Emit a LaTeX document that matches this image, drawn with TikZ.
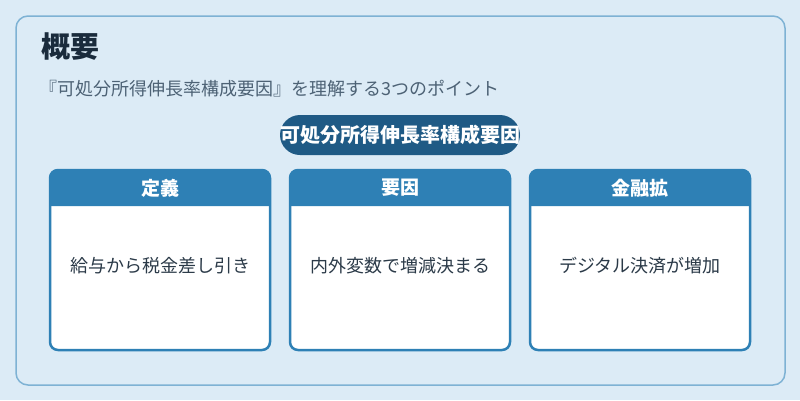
\documentclass[tikz,border=0pt]{standalone}
\usepackage{fontspec}
\usepackage{xcolor}
\usepackage{tikz}
\usetikzlibrary{positioning,calc}
\newfontfamily\cjk{Noto Sans CJK JP}
\definecolor{bgblue}{HTML}{DCEBF6}
\definecolor{frameblue}{HTML}{7EB2D4}
\definecolor{titleink}{HTML}{1A2B3C}
\definecolor{subink}{HTML}{4D6275}
\definecolor{pillblue}{HTML}{1F5A85}
\definecolor{headblue}{HTML}{2E80B5}
\definecolor{bodyink}{HTML}{2B3A48}
\begin{document}
\begin{tikzpicture}[x=1pt,y=-1pt,font=\cjk]
            \tikzstyle{card}=[draw=headblue, line width=2.5pt, fill=white, rounded corners=8pt,
                              minimum width=220pt, minimum height=180pt, outer sep=0pt]
            \tikzstyle{headtext}=[text=white, font=\cjk\bfseries\fontsize{19}{21}\selectfont]
            \tikzstyle{bodytext}=[text=bodyink, font=\cjk\fontsize{18}{20}\selectfont]
            % background and frame
            \fill[bgblue] (0,0) rectangle (800,400);
            \useasboundingbox (0,0) rectangle (800,400);
            \draw[frameblue, line width=1.5pt, rounded corners=12pt] (16,16) rectangle (785,385);
            \node[anchor=west, text=titleink, inner sep=0pt,
                  font=\cjk\bfseries\fontsize{29}{32}\selectfont] (T) at (41,47) {概要};
            \node[anchor=west, text=subink, inner sep=0pt,
                  font=\cjk\fontsize{18}{20}\selectfont] (S) at (39,89)
                  {『可処分所得伸長率構成要因』を理解する3つのポイント};
            \node[fill=pillblue, text=white, rounded corners=20pt, minimum width=240pt,
                  minimum height=40pt, inner sep=0pt,
                  font=\cjk\bfseries\fontsize{20}{22}\selectfont] (P) at (400,135)
                  {可処分所得伸長率構成要因};
            % cards
            \node[card] (C1) at (160,260) {};
            \node[card] (C2) at (400,260) {};
            \node[card] (C3) at (640,260) {};
            \foreach \c in {C1,C2,C3}
              \fill[headblue] ([yshift=-36pt]\c.north west) [rounded corners=8pt] -- (\c.north west)
                  -- (\c.north east) [sharp corners] -- ([yshift=-36pt]\c.north east) -- cycle;
            \node[headtext] (H1) at ($(C1.north)+(0,18)$) {定義};
            \node[headtext] (H2) at ($(C2.north)+(0,18)$) {要因};
            \node[headtext] (H3) at ($(C3.north)+(0,18)$) {金融拡};
            \node[bodytext] (B1) at ($(C1.center)+(0,6)$) {給与から税金差し引き};
            \node[bodytext] (B2) at ($(C2.center)+(0,6)$) {内外変数で増減決まる};
            \node[bodytext] (B3) at ($(C3.center)+(0,6)$) {デジタル決済が増加};
        \end{tikzpicture}
\end{document}
